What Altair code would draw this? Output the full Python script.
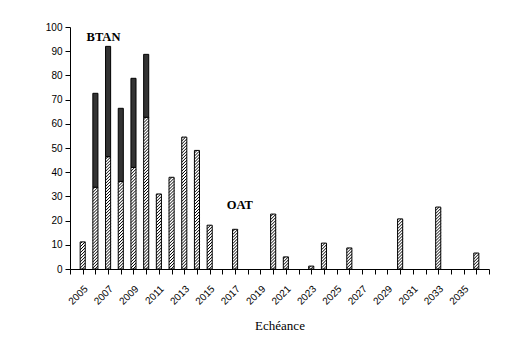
import altair as alt
import pandas as pd

# ---- data ----
years = [2005, 2006, 2007, 2008, 2009, 2010, 2011, 2012, 2013, 2014, 2015,
         2017, 2020, 2021, 2023, 2024, 2026, 2030, 2033, 2036]
oat = [11.2, 33.8, 46.4, 36.2, 42.0, 62.7, 31.0, 37.9, 54.5, 49.0, 18.1,
       16.4, 22.7, 5.0, 1.2, 10.7, 8.7, 20.7, 25.6, 6.6]
btan = [0, 38.8, 45.6, 30.2, 36.8, 26.0, 0, 0, 0, 0, 0,
        0, 0, 0, 0, 0, 0, 0, 0, 0]
ann_text = ["BTAN", "OAT"]
ann_year = [2006.64, 2017.37]
ann_value = [95.9, 26.4]

df = pd.DataFrame({"year": years, "oat": oat, "btan": btan})
ann = pd.DataFrame({"t": ann_text, "ax": ann_year, "ay": ann_value})

HW = 0.2   # half bar width (years)
DY = 2.1   # hatch rise across a bar (value units)
SP = 1.25  # hatch spacing (value units)

xs = alt.Scale(domain=[2004, 2037], nice=False, zero=False)
ys = alt.Scale(domain=[0, 100], nice=False)

xax = alt.Axis(
    values=list(range(2004, 2038)),
    labelExpr="(datum.value % 2 == 1 && datum.value <= 2035) ? '' + datum.value : ''",
    labelAngle=315, labelAlign="right", labelBaseline="middle",
    labelPadding=13, labelOffset=3, labelFontSize=10, tickSize=5, grid=False,
    labelOverlap=False, labelFlush=False, labelBound=False,
    title="Echéance", titleFont="Liberation Serif", titleFontSize=13,
    titleFontWeight="normal", titleY=60, titleBaseline="alphabetic",
    titleColor="black",
)
yax = alt.Axis(values=list(range(0, 101, 10)), tickSize=5, labelPadding=3,
               grid=False, title="")


def X(f):
    return alt.X(f, type="quantitative", scale=xs, axis=xax)


def Y(f):
    return alt.Y(f, type="quantitative", scale=ys, axis=yax)


base = alt.Chart(df).transform_calculate(
    xl=f"datum.year - {HW}", xr=f"datum.year + {HW}", z="0",
    total="datum.oat + datum.btan")

white = base.mark_rect(fill="white", strokeWidth=0).encode(
    x=X("xl"), x2="xr:Q", y=Y("z"), y2="oat:Q")

hatch = base.transform_calculate(
    n=f"ceil((datum.oat + {DY}) / {SP})"
).transform_calculate(
    k="sequence(0, datum.n + 1)"
).transform_flatten(["k"]).transform_calculate(
    y0=f"datum.k * {SP} - {DY}"
).transform_calculate(
    ya="max(datum.y0, 0)", yb=f"min(datum.y0 + {DY}, datum.oat)"
).transform_filter("datum.yb > datum.ya").transform_calculate(
    xa=f"datum.xl + (datum.ya - datum.y0) / {DY} * {2 * HW}",
    xb=f"datum.xl + (datum.yb - datum.y0) / {DY} * {2 * HW}",
).mark_rule(color="black", strokeWidth=1).encode(
    x=X("xa"), x2="xb:Q", y=Y("ya"), y2="yb:Q")

outline = base.mark_rect(fillOpacity=0, stroke="black", strokeWidth=1).encode(
    x=X("xl"), x2="xr:Q", y=Y("z"), y2="oat:Q")

dark = base.transform_filter("datum.btan > 0").mark_rect(
    fill="#333333", stroke="black", strokeWidth=1).encode(
    x=X("xl"), x2="xr:Q", y=Y("oat"), y2="total:Q")

text = alt.Chart(ann).mark_text(
    font="Liberation Serif", fontWeight="bold", fontSize=12.5,
    align="center", baseline="middle", color="black").encode(
    x=X("ax"), y=Y("ay"), text="t:N")

chart = alt.layer(white, hatch, outline, dark, text).properties(
    width=419, height=242,
    autosize=alt.AutoSizeParams(type="none"),
    padding={"left": 70, "top": 27, "right": 43, "bottom": 83},
    background="white",
).configure_view(strokeWidth=0).configure_axis(
    domainColor="black", tickColor="black", labelColor="black",
    labelFont="Liberation Sans", labelFontSize=10, domainWidth=1, tickWidth=1,
)

chart.save("out.html", embed_options={"renderer": "svg", "actions": False})
